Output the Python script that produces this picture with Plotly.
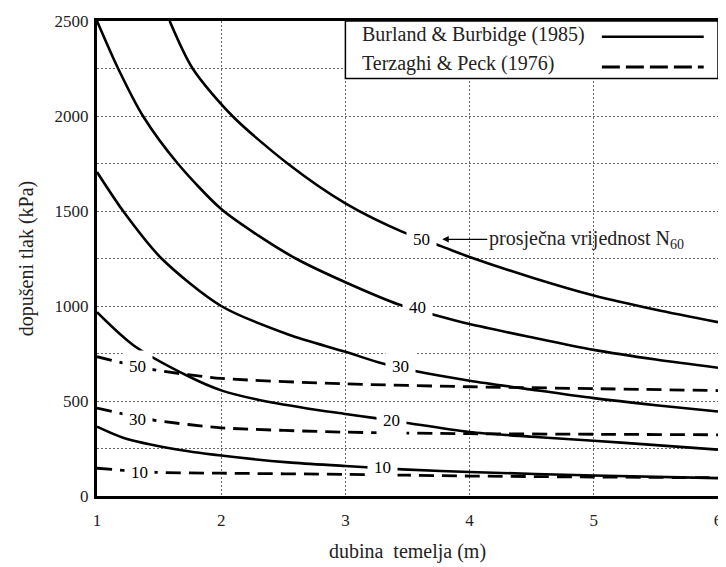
import plotly.graph_objects as go

# ---- data ----
bb_x50 = [1.585, 1.77, 2.09, 2.55, 3.0, 3.46, 3.77, 4.0, 4.5, 5.0, 5.5, 6.0]
bb_y50 = [2500, 2250, 2000, 1742, 1540, 1390, 1315, 1258, 1150, 1055, 980, 915]

bb_x40 = [1.0, 1.17, 1.37, 1.65, 2.0, 2.3, 2.6, 3.0, 3.43, 3.75, 4.0, 4.5, 5.0, 5.5, 6.0]
bb_y40 = [2500, 2250, 2000, 1750, 1510, 1370, 1250, 1125, 1008, 948, 905, 835, 769, 718, 675]

bb_x30 = [1.0, 1.21, 1.52, 2.0, 2.54, 3.0, 3.3, 3.58, 4.0, 4.5, 5.0, 5.5, 6.0]
bb_y30 = [1705, 1500, 1250, 1000, 850, 759, 697, 655, 607, 560, 515, 478, 445]

bb_x20 = [1.0, 1.29, 1.74, 2.0, 2.28, 2.68, 3.0, 3.24, 3.5, 4.0, 4.5, 5.0, 5.5, 6.0]
bb_y20 = [967, 795, 629, 556, 509, 462, 432, 410, 384, 337, 312, 291, 268, 244]

bb_x10 = [1.0, 1.21, 1.61, 2.0, 2.54, 3.0, 3.46, 4.0, 5.0, 6.0]
bb_y10 = [365, 307, 249, 213, 177, 158, 140, 126, 108, 94]

tp_x = [1.0, 1.45, 2.0, 3.0, 4.0, 5.0, 6.0]
tp_y50 = [733, 665, 619, 590, 575, 565, 555]
tp_y30 = [463, 400, 359, 336, 328, 325, 322]
tp_y10 = [146, 125, 120, 114, 105, 100, 96]

x_ticks = [1, 2, 3, 4, 5, 6]
y_ticks = [0, 500, 1000, 1500, 2000, 2500]

bb_labels = ["50", "40", "30", "20", "10"]
tp_labels = ["50", "30", "10"]

SERIF = "Liberation Serif, Times New Roman, serif"
GRID = "#666"

fig = go.Figure()

bb_series = [(bb_x50, bb_y50), (bb_x40, bb_y40), (bb_x30, bb_y30), (bb_x20, bb_y20), (bb_x10, bb_y10)]
for (xs, ys), lab in zip(bb_series, bb_labels):
    fig.add_trace(go.Scatter(x=xs, y=ys, mode="lines", name="Burland & Burbidge (1985) N=" + lab,
                             line=dict(color="black", width=2.6, shape="spline", smoothing=0.8),
                             showlegend=False))

for ys, lab in zip([tp_y50, tp_y30, tp_y10], tp_labels):
    fig.add_trace(go.Scatter(x=tp_x, y=ys, mode="lines", name="Terzaghi & Peck (1976) N=" + lab,
                             line=dict(color="black", width=2.8, dash="15px,8px", shape="spline", smoothing=0.6),
                             showlegend=False))

# curve labels (white background creates the gap in the line)
bb_label_pos = [(3.61, 1351), (3.58, 993), (3.44, 681), (3.37, 395), (3.30, 151)]
tp_label_pos = [(1.33, 681), (1.33, 405), (1.34, 125)]
for (lx, ly), t in zip(bb_label_pos + tp_label_pos, bb_labels + tp_labels):
    fig.add_annotation(x=lx, y=ly, text=t, showarrow=False, bgcolor="white",
                       borderpad=6, font=dict(family=SERIF, size=17, color="black"))

# arrow annotation
fig.add_annotation(x=3.78, y=1351, text="prosječna vrijednost N<sub>60</sub>", showarrow=True,
                   arrowhead=2, arrowsize=1, arrowwidth=1.3, arrowcolor="black",
                   ax=144, ay=0, xanchor="center", standoff=0,
                   font=dict(family=SERIF, size=20, color="#222"))

# manual legend (line samples on the right as in the reference)
fig.add_shape(type="rect", xref="paper", yref="paper", x0=0.4, x1=1.0, y0=0.879, y1=1.0,
              fillcolor="white", line=dict(color="black", width=1.5), layer="above")
fig.add_annotation(xref="paper", yref="paper", x=0.424, y=0.972, text="Burland & Burbidge (1985)",
                   showarrow=False, xanchor="left", yanchor="middle",
                   font=dict(family=SERIF, size=20, color="#222"))
fig.add_annotation(xref="paper", yref="paper", x=0.424, y=0.911, text="Terzaghi & Peck (1976)",
                   showarrow=False, xanchor="left", yanchor="middle",
                   font=dict(family=SERIF, size=20, color="#222"))
fig.add_shape(type="line", xref="paper", yref="paper", x0=0.813, x1=0.977, y0=0.967, y1=0.967,
              line=dict(color="black", width=2.6), layer="above")
fig.add_shape(type="line", xref="paper", yref="paper", x0=0.813, x1=0.977, y0=0.903, y1=0.903,
              line=dict(color="black", width=3, dash="18px,6px"), layer="above")

fig.update_layout(
    width=718, height=559,
    margin=dict(l=89, r=4, t=7, b=71),
    paper_bgcolor="white", plot_bgcolor="white",
    font=dict(family=SERIF, color="#222"),
    xaxis=dict(range=[1, 6], tickvals=x_ticks, ticks="", showgrid=True,
               gridcolor=GRID, griddash="2px,2px", gridwidth=1,
               showline=True, linecolor="black", linewidth=3, mirror=True,
               ticklabelstandoff=7, ticklabeloverflow="allow",
               tickfont=dict(family=SERIF, size=17, color="#222"),
               title=dict(text="dubina  temelja (m)", font=dict(family=SERIF, size=20, color="#222"), standoff=15),
               zeroline=False),
    yaxis=dict(range=[0, 2500], tickvals=y_ticks, ticks="", showgrid=True,
               gridcolor=GRID, griddash="2px,2px", gridwidth=1,
               minor=dict(dtick=250, tick0=0, showgrid=True, gridcolor=GRID, griddash="2px,2px", gridwidth=1),
               showline=True, linecolor="black", linewidth=3, mirror=True,
               ticklabelstandoff=2, ticklabeloverflow="allow",
               tickfont=dict(family=SERIF, size=17, color="#222"),
               title=dict(text="dopušeni tlak (kPa)", font=dict(family=SERIF, size=20, color="#222"), standoff=16),
               zeroline=False),
)

fig.write_html("out.html")
